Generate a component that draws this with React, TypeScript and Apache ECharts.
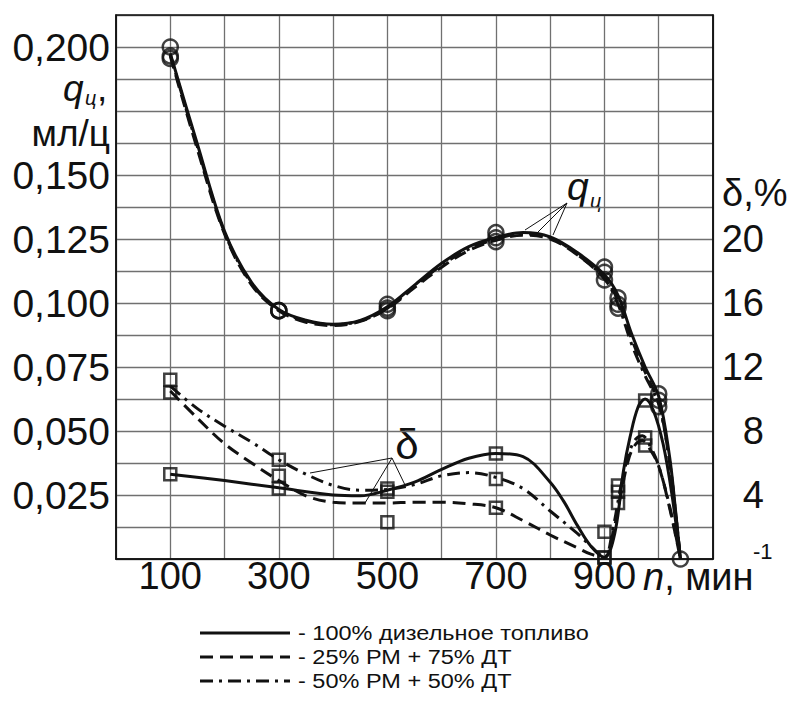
import React, { useEffect, useRef } from "react";
import * as echarts from "echarts";

// ---- axis ticks ----
const xTickLabels = [100, 300, 500, 700, 900];
const qTickValues = [0.025, 0.05, 0.075, 0.1, 0.125, 0.15, 0.2];
const dTickValues = [4, 8, 12, 16, 20];

// ---- q (cyclic feed, ml/cycle) fitted curves ----
const qCurveN = [100, 150, 200, 250, 300, 350, 400, 450, 500, 550, 600, 650, 700, 750, 800, 850, 900, 925, 950, 975, 1000, 1020, 1030, 1040];
const qCurveDT = [0.1975, 0.162, 0.128, 0.108, 0.0975, 0.0933, 0.0917, 0.0932, 0.0985, 0.107, 0.1155, 0.122, 0.1256, 0.1275, 0.1258, 0.1197, 0.111, 0.103, 0.088, 0.075, 0.0635, 0.04, 0.021, 0];
const qCurve25 = [0.1965, 0.16, 0.127, 0.107, 0.097, 0.0925, 0.0912, 0.0928, 0.0978, 0.106, 0.114, 0.1205, 0.1245, 0.1265, 0.125, 0.1188, 0.1095, 0.101, 0.086, 0.073, 0.061, 0.038, 0.02, 0];
const qCurve50 = [0.197, 0.161, 0.1275, 0.1075, 0.0972, 0.093, 0.0915, 0.093, 0.098, 0.1065, 0.1148, 0.121, 0.125, 0.127, 0.1255, 0.119, 0.1095, 0.0995, 0.084, 0.0715, 0.0605, 0.038, 0.02, 0];

// ---- q measured points (circles) ----
const qMarkN = [100, 300, 500, 700, 900, 925, 1000];
const qMarkDT = [0.2, 0.097, 0.0995, 0.1275, 0.114, 0.102, 0.0645];
const qMark25 = [0.1965, 0.097, 0.097, 0.124, 0.109, 0.098, 0.0595];
const qMark50 = [0.1955, 0.097, 0.098, 0.1255, 0.112, 0.0995, 0.062];
const qEndN = [1040];
const qEndV = [0];

// ---- delta (%) fitted curves ----
const dCurveNDT = [100, 200, 300, 400, 450, 500, 550, 600, 650, 700, 750, 800, 825, 850, 875, 900, 919, 935, 947, 962, 975, 990, 1008, 1024, 1040];
const dCurveDT = [5.3, 4.9, 4.45, 4.0, 3.95, 4.3, 4.8, 5.6, 6.3, 6.6, 6.4, 4.8, 3.6, 2.1, 0.8, 0.1, 1.6, 5.5, 7.6, 9.5, 10.0, 9.3, 7.2, 4.1, 0];
const dCurveN2 = [100, 150, 200, 250, 300, 350, 400, 450, 500, 550, 600, 650, 700, 750, 800, 850, 875, 900, 915, 930, 945, 958, 970, 985, 1000, 1020, 1040];
const dCurve25 = [10.5, 8.8, 7.2, 6.0, 4.9, 3.95, 3.55, 3.5, 3.5, 3.55, 3.55, 3.45, 3.2, 2.4, 1.5, 0.7, 0.3, 0.1, 1.5, 4.0, 6.3, 7.2, 7.4, 6.8, 5.8, 3.2, 0];
const dCurve50 = [10.8, 9.4, 8.3, 7.3, 6.2, 5.3, 4.6, 4.3, 4.35, 4.65, 5.2, 5.4, 5.1, 4.4, 3.0, 1.6, 0.8, 0.1, 1.8, 4.5, 6.6, 7.5, 7.7, 7.0, 5.8, 3.3, 0];

// ---- delta measured points (squares) ----
const dMarkN = [100, 300, 500, 700, 900, 925, 975];
const dMarkDT = [5.3, 4.4, 4.4, 6.6, 0.1, 4.6, 9.9];
const dMark25 = [10.4, 5.2, 2.3, 3.2, 0.1, 3.5, 7.1];
const dMark50 = [11.2, 6.2, 4.2, 5.0, 1.7, 4.2, 7.6];

// ---- legend texts ----
const legendLabels = ["- 100% дизельное топливо", "- 25% РМ + 75% ДТ", "- 50% РМ + 50% ДТ"];

const FONT = "'Liberation Sans', Arial, sans-serif";
const INK = "#111";
const DASH = [13, 7];
const DASHDOT = [13, 6, 3, 6];
const lineTypes: any[] = ["solid", DASH, DASHDOT];
const AXIS_FS = 38;

const zip = (xs: number[], ys: number[]) => xs.map((x, i) => [x, ys[i]]);
const near = (v: number, arr: number[]) => arr.some((t) => Math.abs(v - t) < 1e-6);

export default function App() {
  const ref = useRef<HTMLDivElement>(null);
  useEffect(() => {
    if (!ref.current) return;
    const chart = echarts.init(ref.current, null, { renderer: "svg" });

    const curveSeries = (data: number[][], y: number, t: any) => ({
      type: "line",
      data,
      yAxisIndex: y,
      smooth: 0.35,
      symbol: "none",
      lineStyle: { color: INK, width: 3, type: t },
      z: 3,
    });
    const markSeries = (data: number[][], y: number, sym: string, size: number) => ({
      type: "scatter",
      data,
      yAxisIndex: y,
      symbol: sym,
      symbolSize: size,
      itemStyle: { color: "rgba(0,0,0,0)", borderColor: INK, borderWidth: 2.5 },
      z: 4,
    });

    const text = (x: number, y: number, s: string, size: number, extra: any = {}, el: any = {}) => ({
      type: "text",
      x,
      y,
      ...el,
      style: {
        text: s,
        fontSize: size,
        fontFamily: FONT,
        fill: INK,
        textAlign: "left",
        textVerticalAlign: "middle",
        ...extra,
      },
    });
    const seg = (x1: number, y1: number, x2: number, y2: number, w = 1, dash: any = null) => ({
      type: "line",
      shape: { x1, y1, x2, y2 },
      style: { stroke: INK, lineWidth: w, lineDash: dash },
      z: 10,
    });

    const graphics: any[] = [
      // left axis title
      text(63, 88, "q", 37, { fontStyle: "italic" }),
      text(85, 98, "ц", 20, { fontStyle: "italic" }),
      text(97, 88, ",", 37),
      text(110, 133, "мл/ц", 37, { textAlign: "right" }),
      // right axis title
      text(722, 193, "δ,%", 38),
      // x axis title
      text(643, 577, "{i|n}, мин", 38, { rich: { i: { fontStyle: "italic", fontSize: 38, fontFamily: FONT } } }),
      text(753, 551, "-1", 22),
      // q annotation
      text(567, 186, "q", 39, { fontStyle: "italic" }),
      text(590, 201, "ц", 20, { fontStyle: "italic" }),
      seg(567, 203, 525, 230),
      seg(567, 203, 537, 233),
      seg(567, 203, 553, 235),
      // delta annotation
      text(407, 444, "δ", 42, { textAlign: "center" }),
      seg(392, 458, 310, 473),
      seg(392, 458, 365, 503),
      seg(392, 458, 405, 485),
    ];
    legendLabels.forEach((lab, i) => {
      const y = 633 + i * 24;
      graphics.push(seg(200, y, 290, y, 3, i === 0 ? null : i === 1 ? DASH : DASHDOT));
      graphics.push(text(298, y, lab, 21, {}, { scaleX: 1.12, originX: 0, originY: 0 }));
    });

    chart.setOption({
      animation: false,
      backgroundColor: "#fff",
      grid: {
        left: 116,
        top: 15,
        right: 81,
        bottom: 150,
        show: true,
        borderColor: INK,
        borderWidth: 1.5,
        z: 1,
      },
      xAxis: {
        type: "value",
        min: 0,
        max: 1100,
        interval: 100,
        axisLine: { show: true, lineStyle: { color: INK, width: 1.5 } },
        axisTick: { show: false },
        splitLine: { show: true, lineStyle: { color: "#707070", width: 1.3 } },
        axisLabel: {
          margin: -2,
          fontSize: AXIS_FS,
          fontFamily: FONT,
          color: INK,
          formatter: (v: number) => (near(v, xTickLabels) ? String(Math.round(v)) : ""),
        },
      },
      yAxis: [
        {
          type: "value",
          min: 0,
          max: 0.2125,
          interval: 0.0125,
          axisLine: { show: true, lineStyle: { color: INK, width: 1.5 } },
          axisTick: { show: false },
          splitLine: { show: true, lineStyle: { color: "#707070", width: 1.3 } },
          axisLabel: {
            margin: 6,
            fontSize: 39,
            fontFamily: FONT,
            color: INK,
            formatter: (v: number) => (near(v, qTickValues) ? v.toFixed(3).replace(".", ",") : ""),
          },
        },
        {
          type: "value",
          min: 0,
          max: 34,
          interval: 2,
          position: "right",
          axisLine: { show: true, lineStyle: { color: INK, width: 1.5 } },
          axisTick: { show: false },
          splitLine: { show: false },
          axisLabel: {
            margin: 51,
            align: "right",
            fontSize: 38,
            fontFamily: FONT,
            color: INK,
            formatter: (v: number) => (near(v, dTickValues) ? String(Math.round(v)) : ""),
          },
        },
      ],
      series: [
        curveSeries(zip(qCurveN, qCurveDT), 0, lineTypes[0]),
        curveSeries(zip(qCurveN, qCurve25), 0, lineTypes[1]),
        curveSeries(zip(qCurveN, qCurve50), 0, lineTypes[2]),
        curveSeries(zip(dCurveNDT, dCurveDT), 1, lineTypes[0]),
        curveSeries(zip(dCurveN2, dCurve25), 1, lineTypes[1]),
        curveSeries(zip(dCurveN2, dCurve50), 1, lineTypes[2]),
        markSeries(zip(qMarkN, qMarkDT), 0, "circle", 15),
        markSeries(zip(qMarkN, qMark25), 0, "circle", 15),
        markSeries(zip(qMarkN, qMark50), 0, "circle", 15),
        markSeries(zip(qEndN, qEndV), 0, "circle", 15),
        markSeries(zip(dMarkN, dMarkDT), 1, "rect", 12),
        markSeries(zip(dMarkN, dMark25), 1, "rect", 12),
        markSeries(zip(dMarkN, dMark50), 1, "rect", 12),
      ],
      graphic: graphics,
    });
    return () => chart.dispose();
  }, []);
  return <div ref={ref} style={{ width: 794, height: 709, position: "absolute", left: 0, top: 0 }} />;
}
